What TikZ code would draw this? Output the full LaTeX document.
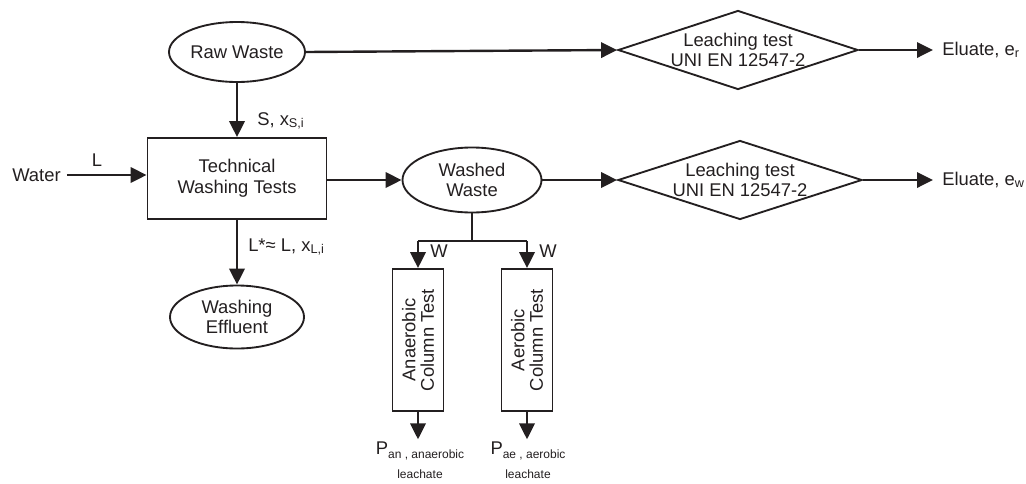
\documentclass[tikz,border=0pt]{standalone}
\usepackage{fontspec}
\setmainfont{Liberation Sans}
\usetikzlibrary{shapes.geometric,arrows.meta}
\definecolor{ink}{HTML}{231F20}
% lowered small index text
\newcommand\lsub[2][1.5pt]{\raisebox{-#1}{\fontsize{9.5}{10}\selectfont #2}}
\newcommand\psub[1]{\raisebox{-3pt}{\fontsize{9}{10}\selectfont #1}}

\begin{document}
\begin{tikzpicture}[x=0.75pt,y=-0.75pt,
  every node/.style={font=\fontsize{13.8}{15.5}\selectfont, text=ink, inner sep=0pt},
  oval/.style={ellipse, draw=ink, line width=1.4pt, align=center},
  box/.style={rectangle, draw=ink, line width=1.4pt, align=center},
  column/.style={rectangle, draw=ink, line width=1.4pt, align=center, rotate=90,
    minimum width=106.5pt, minimum height=38.25pt,
    font=\fontsize{13.8}{13.8}\selectfont},
  test/.style={diamond, draw=ink, line width=1.4pt, align=center, inner sep=-20pt},
  flow/.style={draw=ink, line width=1.8pt, -{Triangle[length=12pt,width=11.5pt]}},
  pipe/.style={draw=ink, line width=1.8pt},
  tag/.style={anchor=west}]
\useasboundingbox (0,0) rectangle (1026,483);

% process units
\node[oval, minimum width=102pt, minimum height=45pt] (raw) at (237,52) {Raw Waste};
\node[box, minimum width=134.25pt, minimum height=60.75pt] (wash) at (237,178.5) {Technical\\Washing Tests};
\node[oval, minimum width=104.25pt, minimum height=48.75pt] (washed) at (472,180) {Washed\\Waste};
\node[oval, minimum width=100.5pt, minimum height=47.25pt] (eff) at (237,317) {Washing\\Effluent};
\node[test, minimum width=180pt, minimum height=59.25pt] (lt1) at (738,50) {Leaching test\\UNI EN 12547-2};
\node[test, minimum width=183pt, minimum height=59.25pt] (lt2) at (740,180) {Leaching test\\UNI EN 12547-2};
\node[column] (an) at (418,340) {Anaerobic\\Column Test};
\node[column] (ae) at (527,340) {Aerobic\\Column Test};

% inputs and outputs
\node[tag] (water) at (12,175) {Water};
\node[tag] (er) at (942,50) {Eluate, e\lsub{r}};
\node[tag] (ew) at (942,180) {Eluate, e\lsub{w}};
\node[anchor=north, align=center] (pan) at (420,442) {P\psub{an , anaerobic}\\[2.5pt]{\fontsize{9}{10}\selectfont leachate}};
\node[anchor=north, align=center] (pae) at (528,442) {P\psub{ae , aerobic}\\[2.5pt]{\fontsize{9}{10}\selectfont leachate}};

% stream labels
\node[tag] (slbl) at (257,121) {S, x\lsub{S,i}};
\node (llbl) at (97,160) {L};
\node[tag] (lslbl) at (248,247) {L*≈ L, x\lsub{L,i}};
\node[tag] (w1) at (430,251) {W};
\node[tag] (w2) at (539,251) {W};

% splitter below the washed waste
\coordinate (split) at (472,241);
\coordinate (jl) at (418,241);
\coordinate (jr) at (527,241);

% streams
\draw[flow] (raw) -- (wash);
\draw[flow, shorten <=4.5pt] (water.east) -- (wash.west |- water.east);
\draw[flow] (wash.east |- washed.west) -- (washed.west);
\draw[flow] (wash) -- (eff);
\draw[flow] (raw.east) -- (lt1.west);
\draw[flow] (washed.east) -- (lt2.west);
\draw[flow, shorten >=6.75pt] (lt1.east) -- (er.west);
\draw[flow, shorten >=6.75pt] (lt2.east) -- (ew.west);
\draw[pipe] (washed.south) -- (split);
\draw[pipe] (jl) -- (jr);
\draw[flow] (jl) -- (an.east);
\draw[flow] (jr) -- (ae.east);
\draw[flow, shorten >=2pt] (an.west) -- (an.west |- pan.north);
\draw[flow, shorten >=2pt] (ae.west) -- (ae.west |- pae.north);
\end{tikzpicture}
\end{document}
